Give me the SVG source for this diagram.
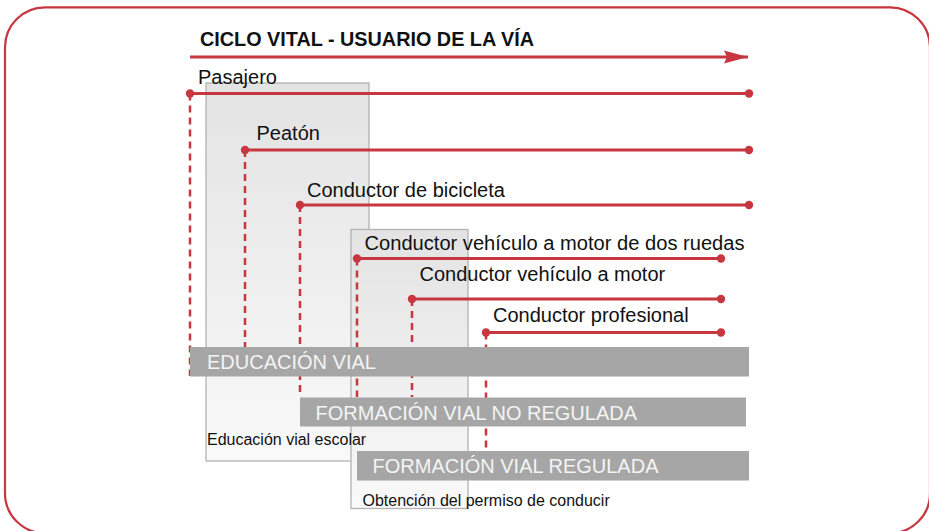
<svg xmlns="http://www.w3.org/2000/svg" width="929" height="531" viewBox="0 0 929 531">
<defs>
<linearGradient id="gbox" x1="0" y1="0" x2="0" y2="1">
<stop offset="0" stop-color="#e3e3e3"/>
<stop offset="1" stop-color="#f9f9f9"/>
</linearGradient>
<marker id="arr" markerUnits="userSpaceOnUse" markerWidth="26" markerHeight="14" refX="24" refY="7" orient="auto">
<path d="M0,0.5 L24,7 L0,13.5 L3,7 Z" fill="#c8373f"/>
</marker>
</defs>
<style>
.lbl{font-family:"Liberation Sans",Arial,sans-serif;font-size:20px;fill:#111}
.sm{font-family:"Liberation Sans",Arial,sans-serif;font-size:16px;fill:#111}
.bar{fill:#a6a6a6}
.bartxt{font-family:"Liberation Sans",Arial,sans-serif;font-size:20px;fill:#f4f4f4}
.box{fill:url(#gbox);stroke:#b3b3b3;stroke-width:1.3}
.ln{stroke:#c8373f;stroke-width:2.8;fill:none}
.dash{stroke:#c8373f;stroke-width:2.5;stroke-dasharray:7 5;fill:none}
.dot{fill:#c8373f}
</style>
<rect x="5" y="7.3" width="925" height="526" rx="40" fill="#fff" stroke="#c8373f" stroke-width="2.2"/>
<g id="title">
<text x="200" y="46" font-family="Liberation Sans,Arial,sans-serif" font-weight="bold" font-size="19.5" fill="#111" textLength="334" lengthAdjust="spacingAndGlyphs">CICLO VITAL - USUARIO DE LA VÍA</text>
<line x1="190" y1="57" x2="748" y2="57" class="ln" marker-end="url(#arr)"/>
</g>
<g id="box-escolar">
<rect x="206" y="83" width="163" height="378" class="box"/>
</g>
<g id="box-permiso">
<rect x="351" y="229.5" width="117" height="279" class="box"/>
</g>
<g id="connectors">
<line x1="190" y1="93.5" x2="190" y2="376" class="dash"/>
<line x1="245" y1="150" x2="245" y2="347" class="dash"/>
<line x1="300" y1="205" x2="300" y2="397" class="dash"/>
<line x1="357" y1="258.5" x2="357" y2="397" class="dash"/>
<line x1="412" y1="299" x2="412" y2="397" class="dash"/>
<line x1="486" y1="332.5" x2="486" y2="451" class="dash"/>
</g>
<g id="pasajero">
<text x="198" y="84" class="lbl">Pasajero</text>
<line x1="190" y1="93.5" x2="749" y2="93.5" class="ln"/>
<circle cx="190" cy="93.5" r="4.2" class="dot"/><circle cx="749" cy="93.5" r="4.2" class="dot"/>
</g>
<g id="peaton">
<text x="256.5" y="140" class="lbl">Peatón</text>
<line x1="245" y1="150" x2="749" y2="150" class="ln"/>
<circle cx="245" cy="150" r="4.2" class="dot"/><circle cx="749" cy="150" r="4.2" class="dot"/>
</g>
<g id="bicicleta">
<text x="307" y="196.5" class="lbl">Conductor de bicicleta</text>
<line x1="300" y1="205" x2="749" y2="205" class="ln"/>
<circle cx="300" cy="205" r="4.2" class="dot"/><circle cx="749" cy="205" r="4.2" class="dot"/>
</g>
<g id="dos-ruedas">
<text x="364.5" y="249.5" class="lbl" textLength="380" lengthAdjust="spacingAndGlyphs">Conductor vehículo a motor de dos ruedas</text>
<line x1="357" y1="258.5" x2="721" y2="258.5" class="ln"/>
<circle cx="357" cy="258.5" r="4.2" class="dot"/><circle cx="721" cy="258.5" r="4.2" class="dot"/>
</g>
<g id="motor">
<text x="419.5" y="281" class="lbl">Conductor vehículo a motor</text>
<line x1="412" y1="299" x2="721" y2="299" class="ln"/>
<circle cx="412" cy="299" r="4.2" class="dot"/><circle cx="721" cy="299" r="4.2" class="dot"/>
</g>
<g id="profesional">
<text x="493" y="322" class="lbl">Conductor profesional</text>
<line x1="486" y1="332.5" x2="721" y2="332.5" class="ln"/>
<circle cx="486" cy="332.5" r="4.2" class="dot"/><circle cx="721" cy="332.5" r="4.2" class="dot"/>
</g>
<g id="educacion-vial">
<rect x="190" y="347" width="559" height="29.5" class="bar"/>
<text x="207" y="368.5" class="bartxt">EDUCACIÓN VIAL</text>
</g>
<g id="formacion-no-regulada">
<rect x="300" y="397.5" width="446" height="29" class="bar"/>
<text x="315.5" y="419.5" class="bartxt">FORMACIÓN VIAL NO REGULADA</text>
</g>
<g id="educacion-escolar">
<text x="207" y="444.5" class="sm">Educación vial escolar</text>
</g>
<g id="formacion-regulada">
<rect x="357" y="451" width="392" height="29.5" class="bar"/>
<text x="372.5" y="472.5" class="bartxt">FORMACIÓN VIAL REGULADA</text>
</g>
<g id="permiso">
<text x="362.5" y="505.5" class="sm">Obtención del permiso de conducir</text>
</g>
</svg>
